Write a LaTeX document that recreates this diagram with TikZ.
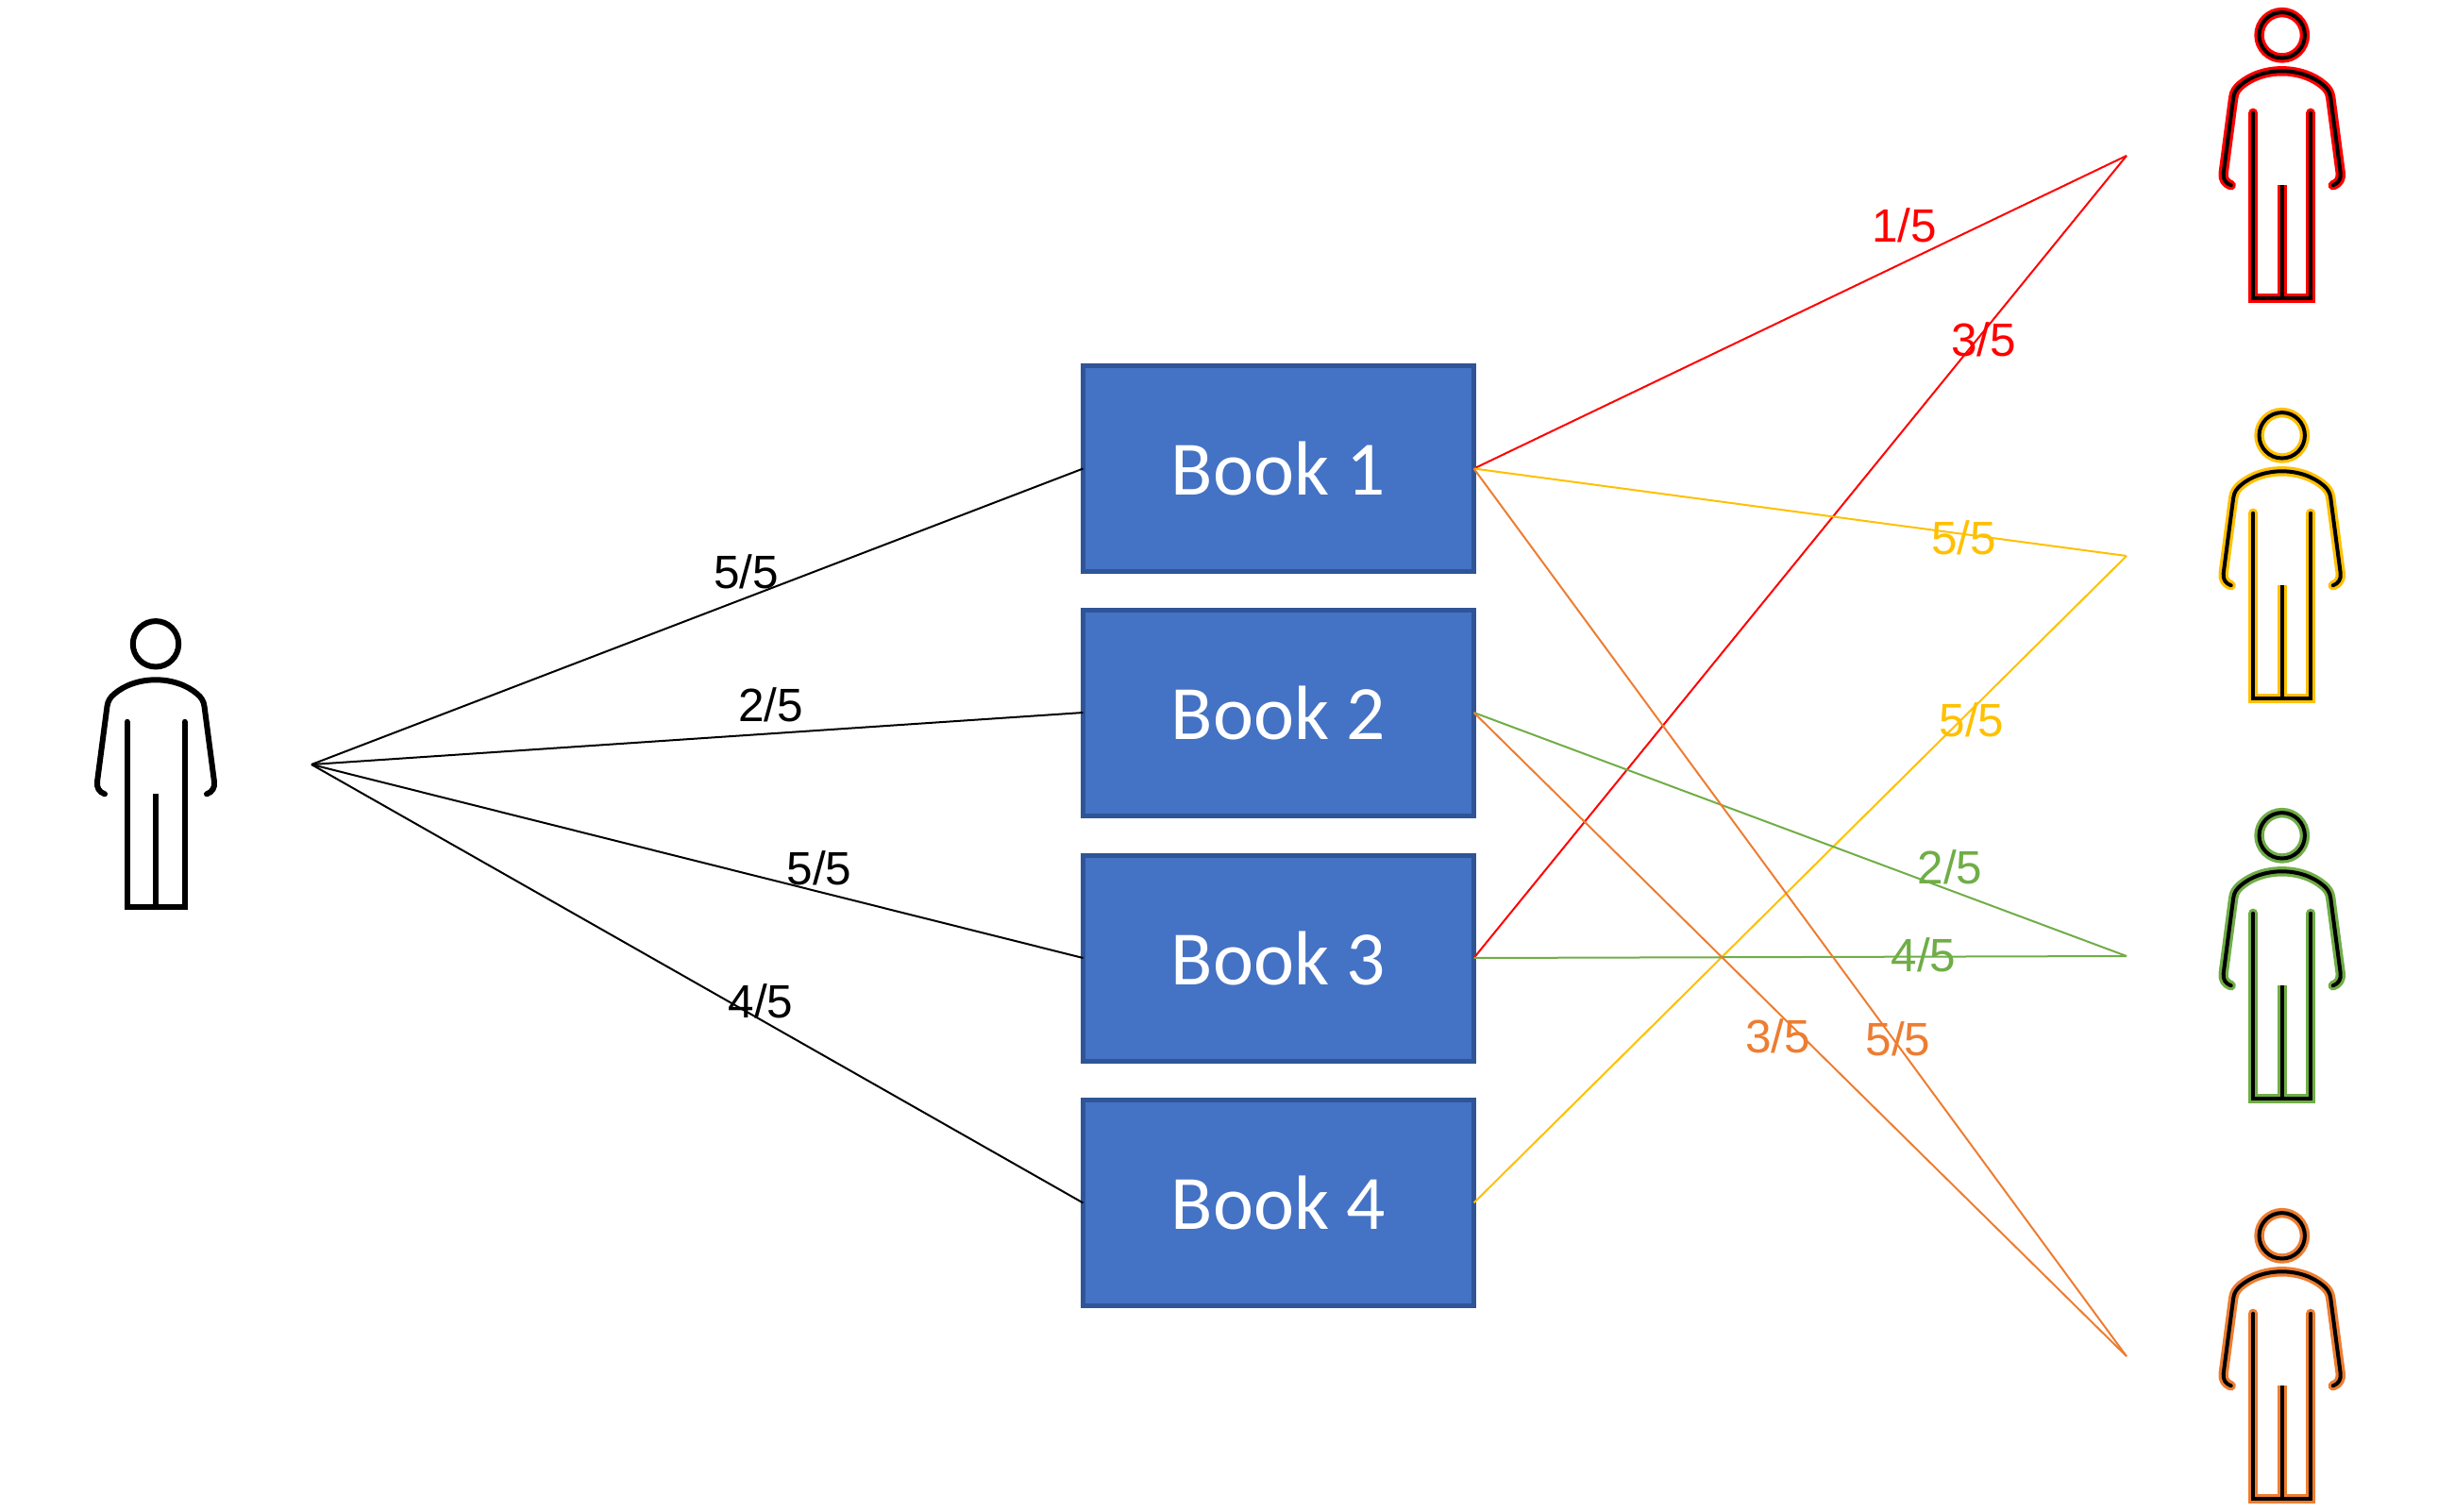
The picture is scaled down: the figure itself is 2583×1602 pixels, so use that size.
\documentclass[tikz,border=0pt]{standalone}
\usepackage{fontspec}
\setmainfont{Liberation Sans}
\newfontfamily\bookfont{Carlito}
\definecolor{bookfill}{HTML}{4472C4}
\definecolor{bookedge}{HTML}{2F5597}
\definecolor{cred}{HTML}{FF0000}
\definecolor{cyellow}{HTML}{FFC000}
\definecolor{cgreen}{HTML}{70AD47}
\definecolor{corange}{HTML}{ED7D31}
\newcommand{\personpaths}[1]{%
  \draw[#1] (0,0) circle[radius=24.2];
  \draw[#1,line cap=round,line join=round] (-54,159) .. controls (-60,157) and (-62.8,152) .. (-62,146)
    -- (-51.5,66) .. controls (-50.7,60) and (-48,56.5) .. (-44,53)
    .. controls (-33,43.5) and (-17,38) .. (0,38)
    .. controls (17,38) and (33,43.5) .. (44,53)
    .. controls (48,56.5) and (50.7,60) .. (51.5,66)
    -- (62,146) .. controls (62.8,152) and (60,157) .. (54,159);
  \draw[#1,line cap=round,line join=miter] (-30.5,82.5) -- (-30.5,278.5) -- (30.5,278.5) -- (30.5,82.5);
  \draw[#1,line cap=butt] (0,158.5) -- (0,278.5);
}
\tikzset{
  x=1pt,y=-1pt,
  person/.pic={\personpaths{black,line width=6pt}},
  personrim/.pic={\personpaths{pic actions,line width=10.4pt}\personpaths{black,line width=4pt}},
  book/.style={draw=bookedge,fill=bookfill,line width=5pt,minimum width=414pt,minimum height=218pt,
    inner sep=0pt,outer sep=0pt,text=white,font=\bookfont\fontsize{81.5}{90}\selectfont},
  score/.style={inner sep=0pt,outer sep=0pt,font=\fontsize{49.5}{56}\selectfont},
  link/.style={line width=2pt},
}
\begin{document}
\begin{tikzpicture}
\useasboundingbox (0,0) rectangle (2583,1602);
% people
\pic at (165,682.3) {person};
\pic[draw=cred] at (2417.7,37.3) {personrim};
\pic[draw=cyellow] at (2417.7,461.3) {personrim};
\pic[draw=cgreen] at (2417.7,885.3) {personrim};
\pic[draw=corange] at (2417.7,1309.3) {personrim};
% anchors of the fans
\coordinate (src) at (330,810);
\coordinate (tred) at (2253,165);
\coordinate (tyellow) at (2253,589);
\coordinate (tgreen) at (2253,1013);
\coordinate (torange) at (2253,1437);
% books
\node[book] (b1) at (1354.5,496.5) {Book 1};
\node[book] (b2) at (1354.5,755) {Book 2};
\node[book] (b3) at (1354.5,1015) {Book 3};
\node[book] (b4) at (1354.5,1274.5) {Book 4};
% connectors
\draw[link,black] (src) -- (b1.west);
\draw[link,black] (src) -- (b2.west);
\draw[link,black] (src) -- (b3.west);
\draw[link,black] (src) -- (b4.west);
\draw[link,cred] (b1.east) -- (tred);
\draw[link,cred] (b3.east) -- (tred);
\draw[link,cyellow] (b1.east) -- (tyellow);
\draw[link,cyellow] (b4.east) -- (tyellow);
\draw[link,cgreen] (b2.east) -- (tgreen);
\draw[link,cgreen] (b3.east) -- (tgreen);
\draw[link,corange] (b1.east) -- (torange);
\draw[link,corange] (b2.east) -- (torange);
% scores
\node[score,text=black] (s1) at (790.7,605.8) {5/5};
\node[score,text=black] (s2) at (816.7,747) {2/5};
\node[score,text=black] (s3) at (868,920) {5/5};
\node[score,text=black] (s4) at (806,1061) {4/5};
\node[score,text=cred] (r1) at (2017.7,239) {1/5};
\node[score,text=cred] (r3) at (2101.7,360) {3/5};
\node[score,text=cyellow] (y1) at (2080.8,570.3) {5/5};
\node[score,text=cyellow] (y4) at (2089,763) {5/5};
\node[score,text=cgreen] (g2) at (2066,919) {2/5};
\node[score,text=cgreen] (g3) at (2038,1012) {4/5};
\node[score,text=corange] (o2) at (1883.7,1098) {3/5};
\node[score,text=corange] (o1) at (2011,1100.5) {5/5};
\end{tikzpicture}
\end{document}
